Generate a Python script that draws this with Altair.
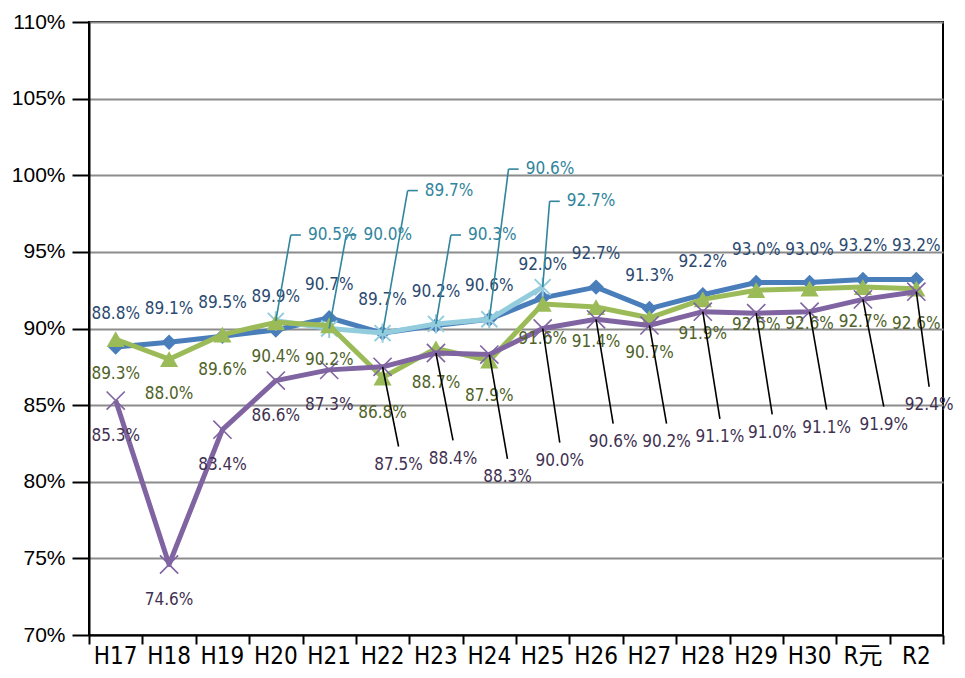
import altair as alt
import pandas as pd

categories = ["H17", "H18", "H19", "H20", "H21", "H22", "H23", "H24",
              "H25", "H26", "H27", "H28", "H29", "H30", "R元", "R2"]
blue = [88.8, 89.1, 89.5, 89.9, 90.7, 89.7, 90.2, 90.6, 92.0, 92.7, 91.3, 92.2, 93.0, 93.0, 93.2, 93.2]
green = [89.3, 88.0, 89.6, 90.4, 90.2, 86.8, 88.7, 87.9, 91.6, 91.4, 90.7, 91.9, 92.5, 92.6, 92.7, 92.6]
purple = [85.3, 74.6, 83.4, 86.6, 87.3, 87.5, 88.4, 88.3, 90.0, 90.6, 90.2, 91.1, 91.0, 91.1, 91.9, 92.4]
light_cats = ["H20", "H21", "H22", "H23", "H24", "H25"]
light = [90.5, 90.0, 89.7, 90.3, 90.6, 92.7]
y_ticks = [70, 75, 80, 85, 90, 95, 100, 105, 110]

# callout label placement (value units / category units)
light_label_y = [96.1, 96.1, 99.0, 96.1, 100.4, 98.3]
light_label_dx = [0.28, 0.32, 0.47, 0.28, 0.36, 0.13]
purple_callout_start = 5
purple_label_y = [81.1, 81.5, 80.3, 81.35, 82.6, 82.6, 82.9, 83.2, 83.5, 83.7, 85.0]
purple_label_dx = [0.30, 0.32, 0.34, 0.32, 0.32, 0.32, 0.32, 0.30, 0.32, 0.39, 0.24]

W, H = 854, 613
FONT = "Liberation Sans Narrow, DejaVu Sans Condensed, Liberation Sans, Noto Sans CJK JP"
LFS = 17

XS = alt.Scale(domain=[0, 16], nice=False, zero=False)
YS = alt.Scale(domain=[70, 110], nice=False, zero=False)


def pos(c):
    return categories.index(c) + 0.5


def fmt(v):
    return f"{v:.1f}%"


X = alt.X("x:Q", scale=XS,
          axis=alt.Axis(values=list(range(17)), labels=False, tickSize=9, tickWidth=2,
                        tickColor="black", domainColor="black", domainWidth=2,
                        grid=False, title=None))
Y = alt.Y("v:Q", scale=YS,
          axis=alt.Axis(values=y_ticks, labelExpr="datum.value + '%'", tickSize=17,
                        tickWidth=2, tickColor="black", domainColor="black", domainWidth=2,
                        gridColor="#8c8c8c", gridWidth=2, labelFontSize=21,
                        labelColor="black", labelPadding=7, labelFont="Liberation Sans",
                        title=None))


def sdf(cats, vals):
    return pd.DataFrame({"cat": cats, "x": [pos(c) for c in cats], "v": vals,
                         "lab": [fmt(v) for v in vals]})


blue_df = sdf(categories, blue)
green_df = sdf(categories, green)
purple_df = sdf(categories, purple)
light_df = sdf(light_cats, light)

layers = []


def line_layer(df, color, shape, size, filled, swidth=1):
    ln = alt.Chart(df).mark_line(color=color, strokeWidth=5, strokeJoin="round").encode(x=X, y=Y)
    if filled:
        pt = alt.Chart(df).mark_point(shape=shape, size=size, filled=True, color=color,
                                      opacity=1).encode(x=X, y=Y)
    else:
        pt = alt.Chart(df).mark_point(shape=shape, size=size, filled=False, stroke=color,
                                      strokeWidth=swidth, opacity=1).encode(x=X, y=Y)
    return [ln, pt]


layers += line_layer(blue_df, "#4A7EBB", "diamond", 240, True)
layers += line_layer(light_df, "#93CDDD", "M-1,-1L1,1M-1,1L1,-1M0,-1.2L0,1.2", 256, False, 2)
layers += line_layer(green_df, "#9BBB59", "triangle-up", 330, True)
layers += line_layer(purple_df, "#8064A2", "M-1,-1L1,1M-1,1L1,-1", 330, False, 1.6)

# blue labels above
layers.append(alt.Chart(blue_df).mark_text(dy=-33, color="#2C4A70", font=FONT, fontSize=LFS)
              .encode(x=X, y=Y, text="lab:N"))
# green labels below
layers.append(alt.Chart(green_df).mark_text(dy=35, color="#4F6228", font=FONT, fontSize=LFS)
              .encode(x=X, y=Y, text="lab:N"))
# purple labels below (first ones)
layers.append(alt.Chart(purple_df.iloc[:purple_callout_start]).mark_text(
    dy=35, color="#3F3151", font=FONT, fontSize=LFS).encode(x=X, y=Y, text="lab:N"))

# purple callouts
pc = purple_df.iloc[purple_callout_start:].copy().reset_index(drop=True)
pc["lx"] = pc["x"] + purple_label_dx
pc["ly"] = purple_label_y
pc["ly_end"] = pc["ly"] + 1.2
layers.append(alt.Chart(pc).mark_rule(color="black", strokeWidth=1.6).encode(
    x=X, y=Y, x2="lx:Q", y2="ly_end:Q"))
layers.append(alt.Chart(pc).mark_text(color="#3F3151", font=FONT, fontSize=LFS).encode(
    x=alt.X("lx:Q", scale=XS), y=alt.Y("ly:Q", scale=YS), text="lab:N"))

# light-blue callouts
lc = light_df.copy()
lc["kx"] = lc["x"] + light_label_dx
lc["ky"] = light_label_y
lc["ex"] = lc["kx"] + 0.19
layers.append(alt.Chart(lc).mark_rule(color="#31859C", strokeWidth=1.6).encode(
    x=X, y=Y, x2="kx:Q", y2="ky:Q"))
layers.append(alt.Chart(lc).mark_rule(color="#31859C", strokeWidth=1.6).encode(
    x=alt.X("kx:Q", scale=XS), y=alt.Y("ky:Q", scale=YS), x2="ex:Q"))
layers.append(alt.Chart(lc).mark_text(color="#31859C", font=FONT, fontSize=LFS, align="left",
                                      dx=7).encode(
    x=alt.X("ex:Q", scale=XS), y=alt.Y("ky:Q", scale=YS), text="lab:N"))

# category labels
cat_df = pd.DataFrame({"x": [pos(c) for c in categories], "cat": categories})
layers.append(alt.Chart(cat_df).mark_text(color="black", font=FONT, fontSize=24,
                                          baseline="middle").encode(
    x=alt.X("x:Q", scale=XS), y=alt.value(H + 22), text="cat:N"))

chart = alt.layer(*layers).properties(
    width=W, height=H,
    autosize=alt.AutoSizeParams(type="none"),
    padding={"left": 81, "top": 14, "right": 12, "bottom": 35},
).configure_view(stroke="black", strokeWidth=2)

chart.save("out.html", embed_options={"renderer": "svg", "actions": False})
